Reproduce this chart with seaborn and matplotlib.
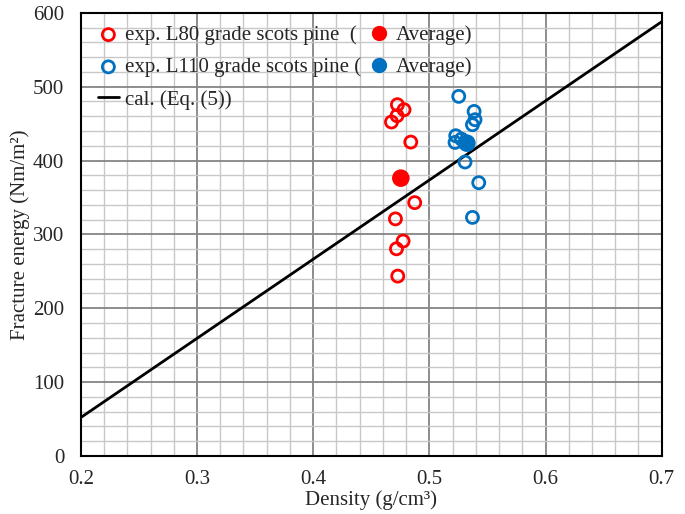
import numpy as np
import pandas as pd
import seaborn as sns
import matplotlib.pyplot as plt
from matplotlib.ticker import MultipleLocator

# measured points (density g/cm3, fracture energy Nm/m2)
rho_l80 = [0.4725, 0.4782, 0.4722, 0.4674, 0.4840, 0.4874, 0.4708, 0.4774, 0.4717, 0.4728]
gf_l80 = [475.6, 468.8, 460.7, 452.2, 425.0, 343.0, 321.0, 291.0, 280.5, 243.5]

rho_l110 = [0.5253, 0.5385, 0.5393, 0.5371, 0.5227, 0.5221, 0.5276, 0.5307, 0.5425, 0.5371]
gf_l110 = [486.9, 466.5, 455.3, 448.5, 433.6, 424.5, 429.0, 398.0, 370.0, 323.0]

# calculated line, Eq. (5)
cal_rho = [0.2, 0.7]
cal_gf = [52, 588]

red = "#FF0000"
blue = "#0070C0"

sns.set_style("white")
plt.rcParams['font.family'] = ['Liberation Serif', 'DejaVu Serif']

fig, ax = plt.subplots(figsize=(6.85, 5.14), dpi=100)
fig.subplots_adjust(left=0.118, right=0.966, top=0.975, bottom=0.113)

l80 = pd.DataFrame({"rho": rho_l80, "gf": gf_l80})
l110 = pd.DataFrame({"rho": rho_l110, "gf": gf_l110})
avg = pd.DataFrame({"rho": [l80.rho.mean(), l110.rho.mean()],
                    "gf": [l80.gf.mean(), l110.gf.mean()],
                    "grade": ["L80", "L110"]})
cal = pd.DataFrame({"rho": cal_rho, "gf": cal_gf})

sns.lineplot(data=cal, x="rho", y="gf", color="black", lw=2, ax=ax, zorder=3,
             label="cal. (Eq. (5))")
sns.scatterplot(data=l80, x="rho", y="gf", ax=ax, s=75, facecolor="none",
                edgecolor=red, linewidth=2, zorder=4,
                label="exp. L80 grade scots pine  (")
sns.scatterplot(data=l110, x="rho", y="gf", ax=ax, s=75, facecolor="none",
                edgecolor=blue, linewidth=2, zorder=4,
                label="exp. L110 grade scots pine (")
sns.scatterplot(data=avg, x="rho", y="gf", hue="grade", palette=[red, blue],
                ax=ax, s=160, edgecolor="none", zorder=5, legend=False)

ax.set_xlim(0.2, 0.7)
ax.set_ylim(0, 600)
ax.xaxis.set_major_locator(MultipleLocator(0.1))
ax.xaxis.set_minor_locator(MultipleLocator(0.02))
ax.yaxis.set_major_locator(MultipleLocator(100))
ax.yaxis.set_minor_locator(MultipleLocator(20))
ax.set_xticklabels([f"{v:.1f}" for v in ax.get_xticks()])
ax.grid(which="major", color="#858585", lw=1.3)
ax.grid(which="minor", color="#c8c8c8", lw=1.0)
ax.set_axisbelow(True)
for s in ax.spines.values():
    s.set_color("black")
    s.set_linewidth(1.5)
ax.tick_params(which="both", length=0, labelsize=15)
ax.tick_params(axis="x", pad=10)
ax.tick_params(axis="y", pad=12)

ax.set_xlabel("Density (g/cm³)", fontsize=15, labelpad=1)
ax.set_ylabel("Fracture energy (Nm/m²)", fontsize=15, labelpad=2)

# legend: open-circle entries, the cal line, then the Average markers
h, lab = ax.get_legend_handles_labels()
hd = dict(zip(lab, h))
avg_r = plt.Line2D([], [], marker="o", ls="", color=red, markersize=10)
avg_b = plt.Line2D([], [], marker="o", ls="", color=blue, markersize=10)
handles = [hd["exp. L80 grade scots pine  ("], hd["exp. L110 grade scots pine ("],
           hd["cal. (Eq. (5))"], avg_r, avg_b]
labels = ["exp. L80 grade scots pine  (", "exp. L110 grade scots pine (",
          "cal. (Eq. (5))", "Average)", "Average)"]
ax.legend(handles, labels, ncol=2, loc="upper left", frameon=False,
          fontsize=15, handlelength=1.0, handletextpad=0.3, columnspacing=0.35,
          labelspacing=0.6, borderaxespad=0.2, bbox_to_anchor=(0.008, 1.0))

fig.savefig("out.png", dpi=100)
